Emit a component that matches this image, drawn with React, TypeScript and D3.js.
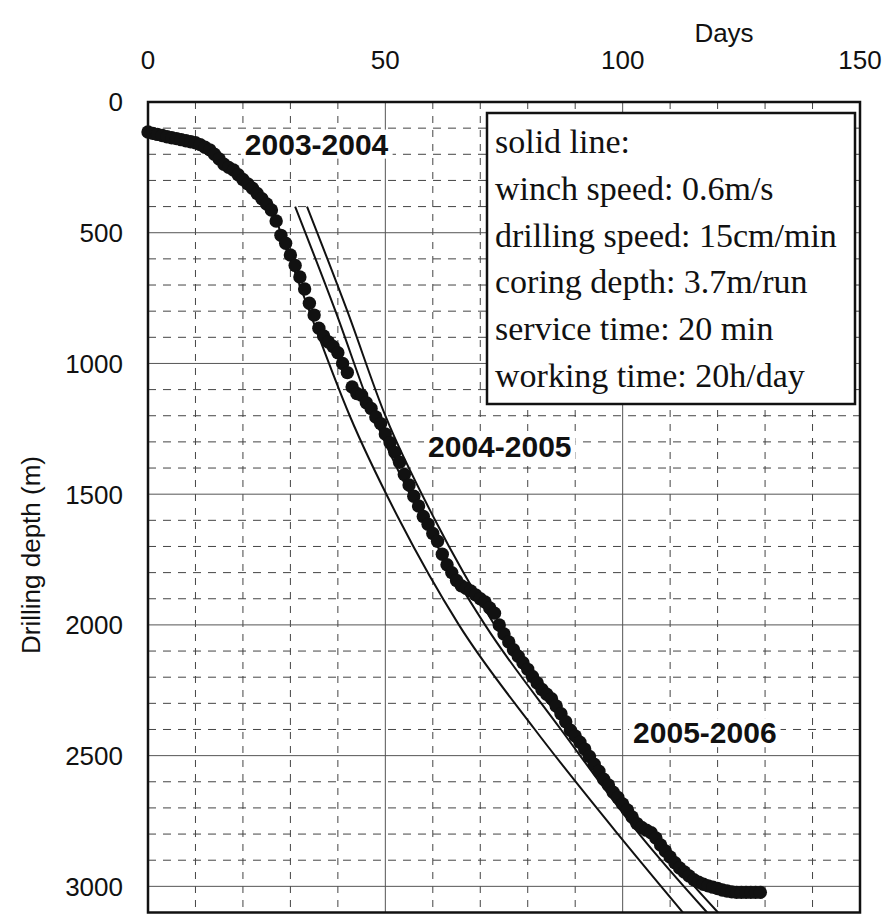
import React, { useEffect, useRef } from "react";
import * as d3 from "d3";

const W = 889;
const H = 914;

// Measured drilling depth (m) at the end of each day, day 0 .. 129
const measuredDepth = [
  115, 120, 124, 128, 133, 137, 140, 144, 148, 152,
  156, 163, 173, 183, 200, 218, 238, 250, 260, 278,
  296, 313, 330, 350, 370, 390, 413, 455, 510, 540,
  585, 625, 669, 715, 770, 815, 865, 895, 918, 935,
  959, 1000, 1035, 1090, 1115, 1122, 1150, 1172, 1205, 1230,
  1270, 1303, 1340, 1378, 1425, 1465, 1508, 1545, 1585, 1615,
  1650, 1680, 1730, 1770, 1800, 1830, 1850, 1860, 1870, 1885,
  1900, 1912, 1935, 1955, 2000, 2035, 2065, 2095, 2120, 2145,
  2170, 2197, 2222, 2247, 2265, 2282, 2310, 2340, 2370, 2403,
  2425, 2449, 2475, 2503, 2533, 2560, 2590, 2612, 2640, 2660,
  2685, 2708, 2735, 2760, 2775, 2785, 2795, 2815, 2842, 2865,
  2888, 2910, 2930, 2945, 2960, 2975, 2984, 2992, 2998, 3003,
  3008, 3014, 3018, 3021, 3023, 3023, 3023, 3023, 3023, 3023,
];

// Modelled progress curves: depth (m) and the day it is reached
const modelDepth = [400, 800, 1200, 1600, 2000, 2400, 2800, 3100];
const modelA = [26, 34, 42.5, 53, 65.5, 81.5, 99, 112.7];
const modelB = [31, 39.5, 47.5, 58, 71, 87, 103.5, 117.8];
const modelC = [33.5, 42, 50, 60.5, 73, 88.5, 105.5, 120.1];

const dayTicks = [0, 50, 100, 150];
const depthTicks = [0, 500, 1000, 1500, 2000, 2500, 3000];

const seasonLabels = ["2003-2004", "2004-2005", "2005-2006"];
const seasonDay = [20.4, 59, 102.2];
const seasonDepth = [160, 1318, 2411];

const legendLines = [
  "solid line:",
  "winch speed: 0.6m/s",
  "drilling speed: 15cm/min",
  "coring depth: 3.7m/run",
  "service time: 20 min",
  "working time: 20h/day",
];

export default function App() {
  const ref = useRef<SVGSVGElement | null>(null);

  useEffect(() => {
    const svg = d3.select(ref.current);
    svg.selectAll("*").remove();

    const left = 148, right = 860, top = 102, bottom = 912.5;
    const x = d3.scaleLinear().domain([0, 150]).range([left, right]);
    const y = d3.scaleLinear().domain([0, 3100]).range([top, bottom]);

    svg.append("rect").attr("width", W).attr("height", H).attr("fill", "#fff");

    const grid = svg.append("g");
    // minor grid: every 10 days / 100 m, dashed
    const minorDays = d3.range(10, 150, 10).filter((d) => d % 50 !== 0);
    const minorDepth = d3.range(100, 3100, 100).filter((d) => d % 500 !== 0);
    grid.selectAll("line.vx").data(minorDays).join("line")
      .attr("x1", (d) => x(d)).attr("x2", (d) => x(d))
      .attr("y1", top).attr("y2", bottom)
      .attr("stroke", "#444").attr("stroke-width", 1)
      .attr("stroke-dasharray", "7,7");
    grid.selectAll("line.hy").data(minorDepth).join("line")
      .attr("x1", left).attr("x2", right)
      .attr("y1", (d) => y(d)).attr("y2", (d) => y(d))
      .attr("stroke", "#444").attr("stroke-width", 1)
      .attr("stroke-dasharray", "8,7");
    // major grid: solid
    grid.selectAll("line.vmaj").data([50, 100]).join("line")
      .attr("x1", (d) => x(d)).attr("x2", (d) => x(d))
      .attr("y1", top).attr("y2", bottom)
      .attr("stroke", "#555").attr("stroke-width", 1);
    grid.selectAll("line.hmaj").data([500, 1000, 1500, 2000, 2500, 3000]).join("line")
      .attr("x1", left).attr("x2", right)
      .attr("y1", (d) => y(d)).attr("y2", (d) => y(d))
      .attr("stroke", "#555").attr("stroke-width", 1);

    // model curves
    const line = d3.line<[number, number]>()
      .x((p) => x(p[0])).y((p) => y(p[1]))
      .curve(d3.curveMonotoneX);
    [modelA, modelB, modelC].forEach((days) => {
      svg.append("path")
        .attr("d", line(days.map((d, i) => [d, modelDepth[i]] as [number, number])))
        .attr("fill", "none").attr("stroke", "#111").attr("stroke-width", 2);
    });

    // measured progress
    svg.append("g").selectAll("circle").data(measuredDepth).join("circle")
      .attr("cx", (_d, i) => x(i)).attr("cy", (d) => y(d))
      .attr("r", 6.7).attr("fill", "#111");

    // season labels with white backing
    seasonLabels.forEach((s, i) => {
      const g = svg.append("g");
      const t = g.append("text")
        .attr("x", x(seasonDay[i])).attr("y", y(seasonDepth[i]))
        .attr("dy", "0.36em")
        .attr("font-family", "Liberation Sans, Arial, sans-serif")
        .attr("font-weight", "bold").attr("font-size", 30)
        .attr("fill", "#111").text(s);
      const bb = (t.node() as SVGTextElement).getBBox();
      g.insert("rect", "text")
        .attr("x", bb.x - 4).attr("y", bb.y + 2)
        .attr("width", bb.width + 8).attr("height", bb.height - 4)
        .attr("fill", "#fff");
    });

    // legend box
    const lx = 487, ly = 113, lw = 368, lh = 291;
    svg.append("rect").attr("x", lx).attr("y", ly).attr("width", lw).attr("height", lh)
      .attr("fill", "#fff").attr("stroke", "#111").attr("stroke-width", 2.5);
    svg.append("g").selectAll("text").data(legendLines).join("text")
      .attr("x", lx + 8).attr("y", (_d, i) => ly + 40 + i * 46.8)
      .attr("font-family", "Liberation Serif, Times New Roman, serif")
      .attr("font-size", 34).attr("fill", "#111")
      .text((d) => d);

    // frame
    svg.append("rect").attr("x", left).attr("y", top)
      .attr("width", right - left).attr("height", bottom - top)
      .attr("fill", "none").attr("stroke", "#111").attr("stroke-width", 2.5);

    // axes labels
    const font = "Liberation Sans, Arial, sans-serif";
    svg.append("g").selectAll("text").data(dayTicks).join("text")
      .attr("x", (d) => x(d)).attr("y", 69)
      .attr("text-anchor", "middle").attr("font-family", font)
      .attr("font-size", 26).attr("fill", "#111").text((d) => d);
    svg.append("g").selectAll("text").data(depthTicks).join("text")
      .attr("x", 123).attr("y", (d) => y(d)).attr("dy", "0.36em")
      .attr("text-anchor", "end").attr("font-family", font)
      .attr("font-size", 26).attr("fill", "#111").text((d) => d);
    svg.append("text").attr("x", 724).attr("y", 42)
      .attr("text-anchor", "middle").attr("font-family", font)
      .attr("font-size", 26).attr("fill", "#111").text("Days");
    svg.append("text")
      .attr("transform", "translate(40,555) rotate(-90)")
      .attr("text-anchor", "middle").attr("font-family", font)
      .attr("font-size", 26).attr("fill", "#111").text("Drilling depth (m)");
  }, []);

  return (
    <svg ref={ref} width={W} height={H}
      style={{ position: "absolute", left: 0, top: 0, display: "block" }} />
  );
}
